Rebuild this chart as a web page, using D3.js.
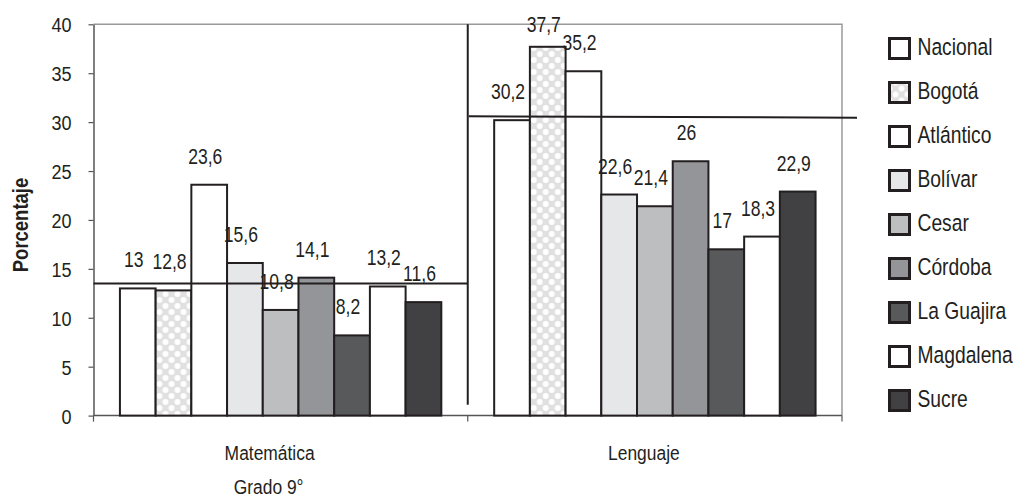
<!DOCTYPE html>
<html>
<head>
<meta charset="utf-8">
<script src="https://d3js.org/d3.v7.min.js"></script>
<style>
  body { margin: 0; background: #fff; }
  svg text { font-family: "Liberation Sans", Arial, sans-serif; fill: #231f20; }
</style>
</head>
<body>
<svg width="1020" height="497"></svg>
<script>
// data
const categories = ["Matemática", "Lenguaje"];
const series = ["Nacional", "Bogotá", "Atlántico", "Bolívar", "Cesar", "Córdoba", "La Guajira", "Magdalena", "Sucre"];
const matematica = [13, 12.8, 23.6, 15.6, 10.8, 14.1, 8.2, 13.2, 11.6];
const lenguaje = [30.2, 37.7, 35.2, 22.6, 21.4, 26, 17, 18.3, 22.9];
const refLines = [[13.5, 13.5], [30.6, 30.45]];   // start / end value of each reference line
const yTicks = [0, 5, 10, 15, 20, 25, 30, 35, 40];

const fills = ["#ffffff", "url(#bogota)", "#ffffff", "#e6e7e8", "#bcbec0", "#939598", "#58595b", "#ffffff", "#414042"];

const svg = d3.select("svg");
const plotL = 93.5, plotR = 842, plotT = 24.3, plotB = 415.6;

// condensed look: squeeze text horizontally
function place(sel, x, y, sx) {
  return sel.attr("transform", `translate(${x},${y}) scale(${sx},1)`);
}

// pattern for Bogotá
const pat = svg.append("defs").append("pattern")
  .attr("id", "bogota").attr("patternUnits", "userSpaceOnUse")
  .attr("width", 12).attr("height", 12);
pat.append("rect").attr("width", 12).attr("height", 12).attr("fill", "#e0e0e0");
[[6, 0], [0, 6], [12, 6], [6, 12]].forEach(p => {
  pat.append("circle").attr("cx", p[0]).attr("cy", p[1]).attr("r", 2.9).attr("fill", "#ffffff");
});

const x0 = d3.scaleBand().domain(categories).range([plotL, plotR]);
const x1 = d3.scaleBand().domain(series).range([0, x0.bandwidth()]).paddingOuter(0.74);
const y = d3.scaleLinear().domain([0, 40]).range([plotB, plotT]);

// plot frame (top and right)
svg.append("path")
  .attr("d", `M${plotL},${plotT}H${plotR}V${plotB}`)
  .attr("fill", "none").attr("stroke", "#9a9a9a").attr("stroke-width", 1.5);

// y axis
const yAxis = svg.append("g")
  .attr("transform", `translate(${plotL},0)`)
  .call(d3.axisLeft(y).tickValues(yTicks).tickSize(5).tickSizeOuter(0).tickPadding(17));
yAxis.select(".domain").attr("stroke", "#555").attr("stroke-width", 1.5);
yAxis.selectAll(".tick line").attr("stroke", "#555").attr("stroke-width", 1.2);
yAxis.selectAll(".tick text")
  .attr("font-size", 21).attr("dy", "0.36em")
  .attr("x", -22 / 0.86).attr("transform", "scale(0.86,1)");

// x axis: line, boundary ticks, labels
svg.append("line").attr("x1", plotL).attr("x2", plotR).attr("y1", plotB).attr("y2", plotB)
  .attr("stroke", "#555").attr("stroke-width", 1.5);
const edges = categories.map(c => x0(c)).concat([x0.range()[1]]);
svg.selectAll(".xtick").data(edges).join("line")
  .attr("x1", d => d).attr("x2", d => d).attr("y1", plotB).attr("y2", plotB + 6)
  .attr("stroke", "#555").attr("stroke-width", 1.2);
svg.selectAll(".xlab").data(categories).join("text")
  .attr("text-anchor", "middle").attr("font-size", 21)
  .attr("transform", d => `translate(${x0(d) + x0.bandwidth() / 2 - 11},460) scale(0.83,1)`)
  .text(d => d);
place(svg.append("text"), x0(categories[0]) + x0.bandwidth() / 2 - 12, 494, 0.83)
  .attr("text-anchor", "middle").attr("font-size", 21)
  .text("Grado 9°");

// y title
svg.append("text")
  .attr("transform", `translate(28,225) rotate(-90) scale(0.84,1)`)
  .attr("text-anchor", "middle").attr("font-size", 22).attr("font-weight", "bold")
  .text("Porcentaje");

// bars
const values = [matematica, lenguaje];
const groups = svg.selectAll(".grp").data(categories).join("g")
  .attr("transform", d => `translate(${x0(d)},0)`);

groups.each(function (cat, ci) {
  const g = d3.select(this);
  const rows = series.map((s, i) => ({ s, v: values[ci][i], i }));
  g.selectAll("rect").data(rows).join("rect")
    .attr("x", d => x1(d.s))
    .attr("y", d => y(d.v))
    .attr("width", x1.bandwidth())
    .attr("height", d => y(0) - y(d.v))
    .attr("fill", d => fills[d.i])
    .attr("stroke", "#231f20").attr("stroke-width", 2);
  g.selectAll("text").data(rows).join("text")
    .attr("transform", d => `translate(${x1(d.s) + x1.bandwidth() / 2 - 4},${Math.max(y(d.v) - 21, 32)}) scale(0.78,1)`)
    .attr("text-anchor", "middle").attr("font-size", 22.5)
    .text(d => String(d.v).replace(".", ","));
});

// reference lines and separator
svg.append("line")
  .attr("x1", plotL).attr("x2", x0("Lenguaje"))
  .attr("y1", y(refLines[0][0])).attr("y2", y(refLines[0][1]))
  .attr("stroke", "#231f20").attr("stroke-width", 2);
svg.append("line")
  .attr("x1", x0("Lenguaje") + 1).attr("x2", plotR + 15)
  .attr("y1", y(refLines[1][0])).attr("y2", y(refLines[1][1]))
  .attr("stroke", "#231f20").attr("stroke-width", 2);
svg.append("line")
  .attr("x1", x0("Lenguaje")).attr("x2", x0("Lenguaje"))
  .attr("y1", plotT).attr("y2", y(1.1))
  .attr("stroke", "#231f20").attr("stroke-width", 2);

// legend
const legend = svg.selectAll(".leg").data(series).join("g")
  .attr("transform", (d, i) => `translate(889.5,${38.5 + i * 44})`);
legend.append("rect")
  .attr("width", 20).attr("height", 20)
  .attr("fill", (d, i) => fills[i])
  .attr("stroke", "#231f20").attr("stroke-width", 3);
legend.append("text")
  .attr("transform", "translate(28,16) scale(0.82,1)")
  .attr("font-size", 23.5)
  .text(d => d);
</script>
</body>
</html>
